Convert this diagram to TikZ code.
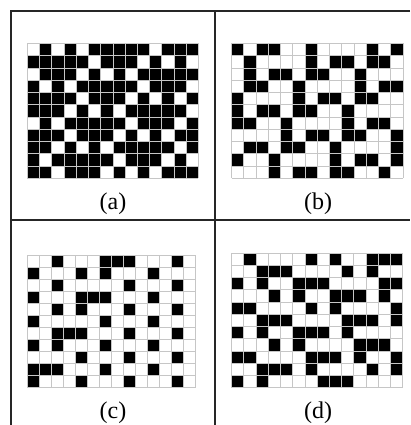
\documentclass[tikz,border=0pt]{standalone}
\usepackage{fontspec}
\setmainfont{Liberation Serif}
\begin{document}
\begin{tikzpicture}[x=1pt, y=-1pt, font=\fontsize{24}{28}\selectfont,
    cellline/.style={gray!45, line width=0.6pt},
    tableline/.style={black!85, line width=1.1pt}]
  \useasboundingbox (0,0) rectangle (410,425);
  % table rules
  \draw[tableline] (410,11) -- (11,11) -- (11,425);
  \draw[tableline] (215,11) -- (215,425);
  \draw[tableline] (11,220) -- (410,220);
  % (a)
  \begin{scope}[shift={(27.3,43.5)}, x=12.22pt, y=-12.25pt]
    \foreach \r/\cols in {1/{2,4,6,7,8,9,10,12,13,14}, 2/{1,2,3,4,5,7,8,9,11,13},
        3/{2,3,4,6,8,10,11,12,13,14}, 4/{1,3,5,6,7,8,9,11,12,13},
        5/{1,2,3,4,6,7,8,10,12,14}, 6/{1,2,3,5,7,9,10,11,12,13},
        7/{2,4,5,6,7,8,10,11,12,14}, 8/{1,2,3,5,6,7,9,11,13,14},
        9/{1,2,4,6,8,9,10,11,12,14}, 10/{1,3,4,5,6,7,9,10,11,13},
        11/{1,2,4,5,6,8,10,12,13,14}}
      \foreach \c in \cols \fill (\c-1,\r-1) rectangle (\c,\r);
    \foreach \i in {0,...,14} \draw[cellline] (\i,0) -- (\i,11);
    \foreach \j in {0,...,11} \draw[cellline] (0,\j) -- (14,\j);
  \end{scope}
  % (b)
  \begin{scope}[shift={(231.5,43.5)}, x=12.25pt, y=-12.25pt]
    \foreach \r/\cols in {1/{1,3,4,7,12,14}, 2/{2,7,9,10,12,13},
        3/{2,4,5,7,8,11}, 4/{2,3,6,11,13,14}, 5/{1,6,8,9,11,12},
        6/{1,3,4,6,7,10}, 7/{1,2,5,10,12,13}, 8/{5,7,8,10,11,14},
        9/{2,3,5,6,9,14}, 10/{1,4,9,11,12,14}, 11/{4,6,7,9,10,13}}
      \foreach \c in \cols \fill (\c-1,\r-1) rectangle (\c,\r);
    \foreach \i in {0,...,14} \draw[cellline] (\i,0) -- (\i,11);
    \foreach \j in {0,...,11} \draw[cellline] (0,\j) -- (14,\j);
  \end{scope}
  % (c)
  \begin{scope}[shift={(27.3,255)}, x=12.03pt, y=-12.06pt]
    \foreach \r/\cols in {1/{3,7,8,9,13}, 2/{1,5,7,11}, 3/{3,9,13},
        4/{1,5,6,7,11}, 5/{3,5,9,13}, 6/{1,7,11}, 7/{3,4,5,9,13},
        8/{1,3,7,11}, 9/{5,9,13}, 10/{1,2,3,7,11}, 11/{1,5,9,13}}
      \foreach \c in \cols \fill (\c-1,\r-1) rectangle (\c,\r);
    \foreach \i in {0,...,14} \draw[cellline] (\i,0) -- (\i,11);
    \foreach \j in {0,...,11} \draw[cellline] (0,\j) -- (14,\j);
  \end{scope}
  % (d)
  \begin{scope}[shift={(231.5,253)}, x=12.22pt, y=-12.24pt]
    \foreach \r/\cols in {1/{2,7,9,12,13,14}, 2/{3,4,5,10,12},
        3/{1,3,6,7,8,13,14}, 4/{4,6,9,10,11,13}, 5/{1,2,7,9,14},
        6/{3,4,5,10,11,12,14}, 7/{1,3,6,7,8,10}, 8/{4,6,11,12,13},
        9/{1,2,7,8,9,11,14}, 10/{3,4,5,7,12,14}, 11/{1,3,8,9,10}}
      \foreach \c in \cols \fill (\c-1,\r-1) rectangle (\c,\r);
    \foreach \i in {0,...,14} \draw[cellline] (\i,0) -- (\i,11);
    \foreach \j in {0,...,11} \draw[cellline] (0,\j) -- (14,\j);
  \end{scope}
  % captions
  \node (capa) at (113,204) {(a)};
  \node (capb) at (318,204) {(b)};
  \node (capc) at (113,413) {(c)};
  \node (capd) at (318,413) {(d)};
\end{tikzpicture}
\end{document}
